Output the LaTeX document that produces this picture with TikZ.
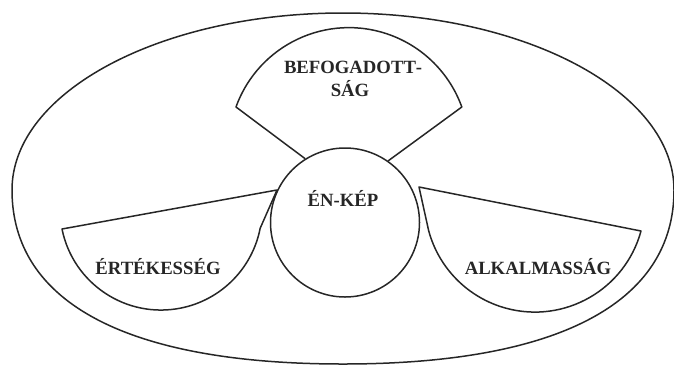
\documentclass[tikz,border=0pt]{standalone}
\usepackage{fontspec}
\setmainfont{Liberation Serif}
\begin{document}
\begin{tikzpicture}[x=1pt,y=-1pt,
  shapeline/.style={draw=black!85, line width=1.5pt, line join=round},
  lbl/.style={font=\fontsize{18.7}{23}\selectfont\bfseries, text=black!85, inner sep=0pt, anchor=base}]
\useasboundingbox (0,0) rectangle (674,365);
% outer ellipse
\draw[shapeline] (12,190) arc[start angle=180, end angle=0, x radius=331pt, y radius=177pt]
  .. controls (674,303) and (558,364) .. (343,364)
  .. controls (128,364) and (12,303) .. cycle;
% central circle
\node[circle, shapeline, minimum size=149pt, inner sep=0pt] (enkep) at (345,222.5) {};
% top fan
\draw[shapeline] (enkep.122) -- (236,107) arc[start angle=160.2, end angle=19.8, radius=120pt] -- (enkep.55);
% left fan
\draw[shapeline] (277,190) -- (62,229) arc[start angle=191.4, end angle=349, radius=101pt] -- cycle;
% right fan
\draw[shapeline] (419,187) -- (641,231) arc[start angle=344.75, end angle=195, radius=110pt] -- cycle;
% labels
\node[lbl] (befog) at (350,73) {\begin{tabular}[t]{@{}c@{}}BEFOGADOTT\rlap{-}\\SÁG\end{tabular}};
\node[lbl] (enkeplbl) at (343,206) {ÉN-KÉP};
\node[lbl] (ertek) at (158,274) {ÉRTÉKESSÉG};
\node[lbl] (alkalm) at (538,274) {ALKALMASSÁG};
\end{tikzpicture}
\end{document}
